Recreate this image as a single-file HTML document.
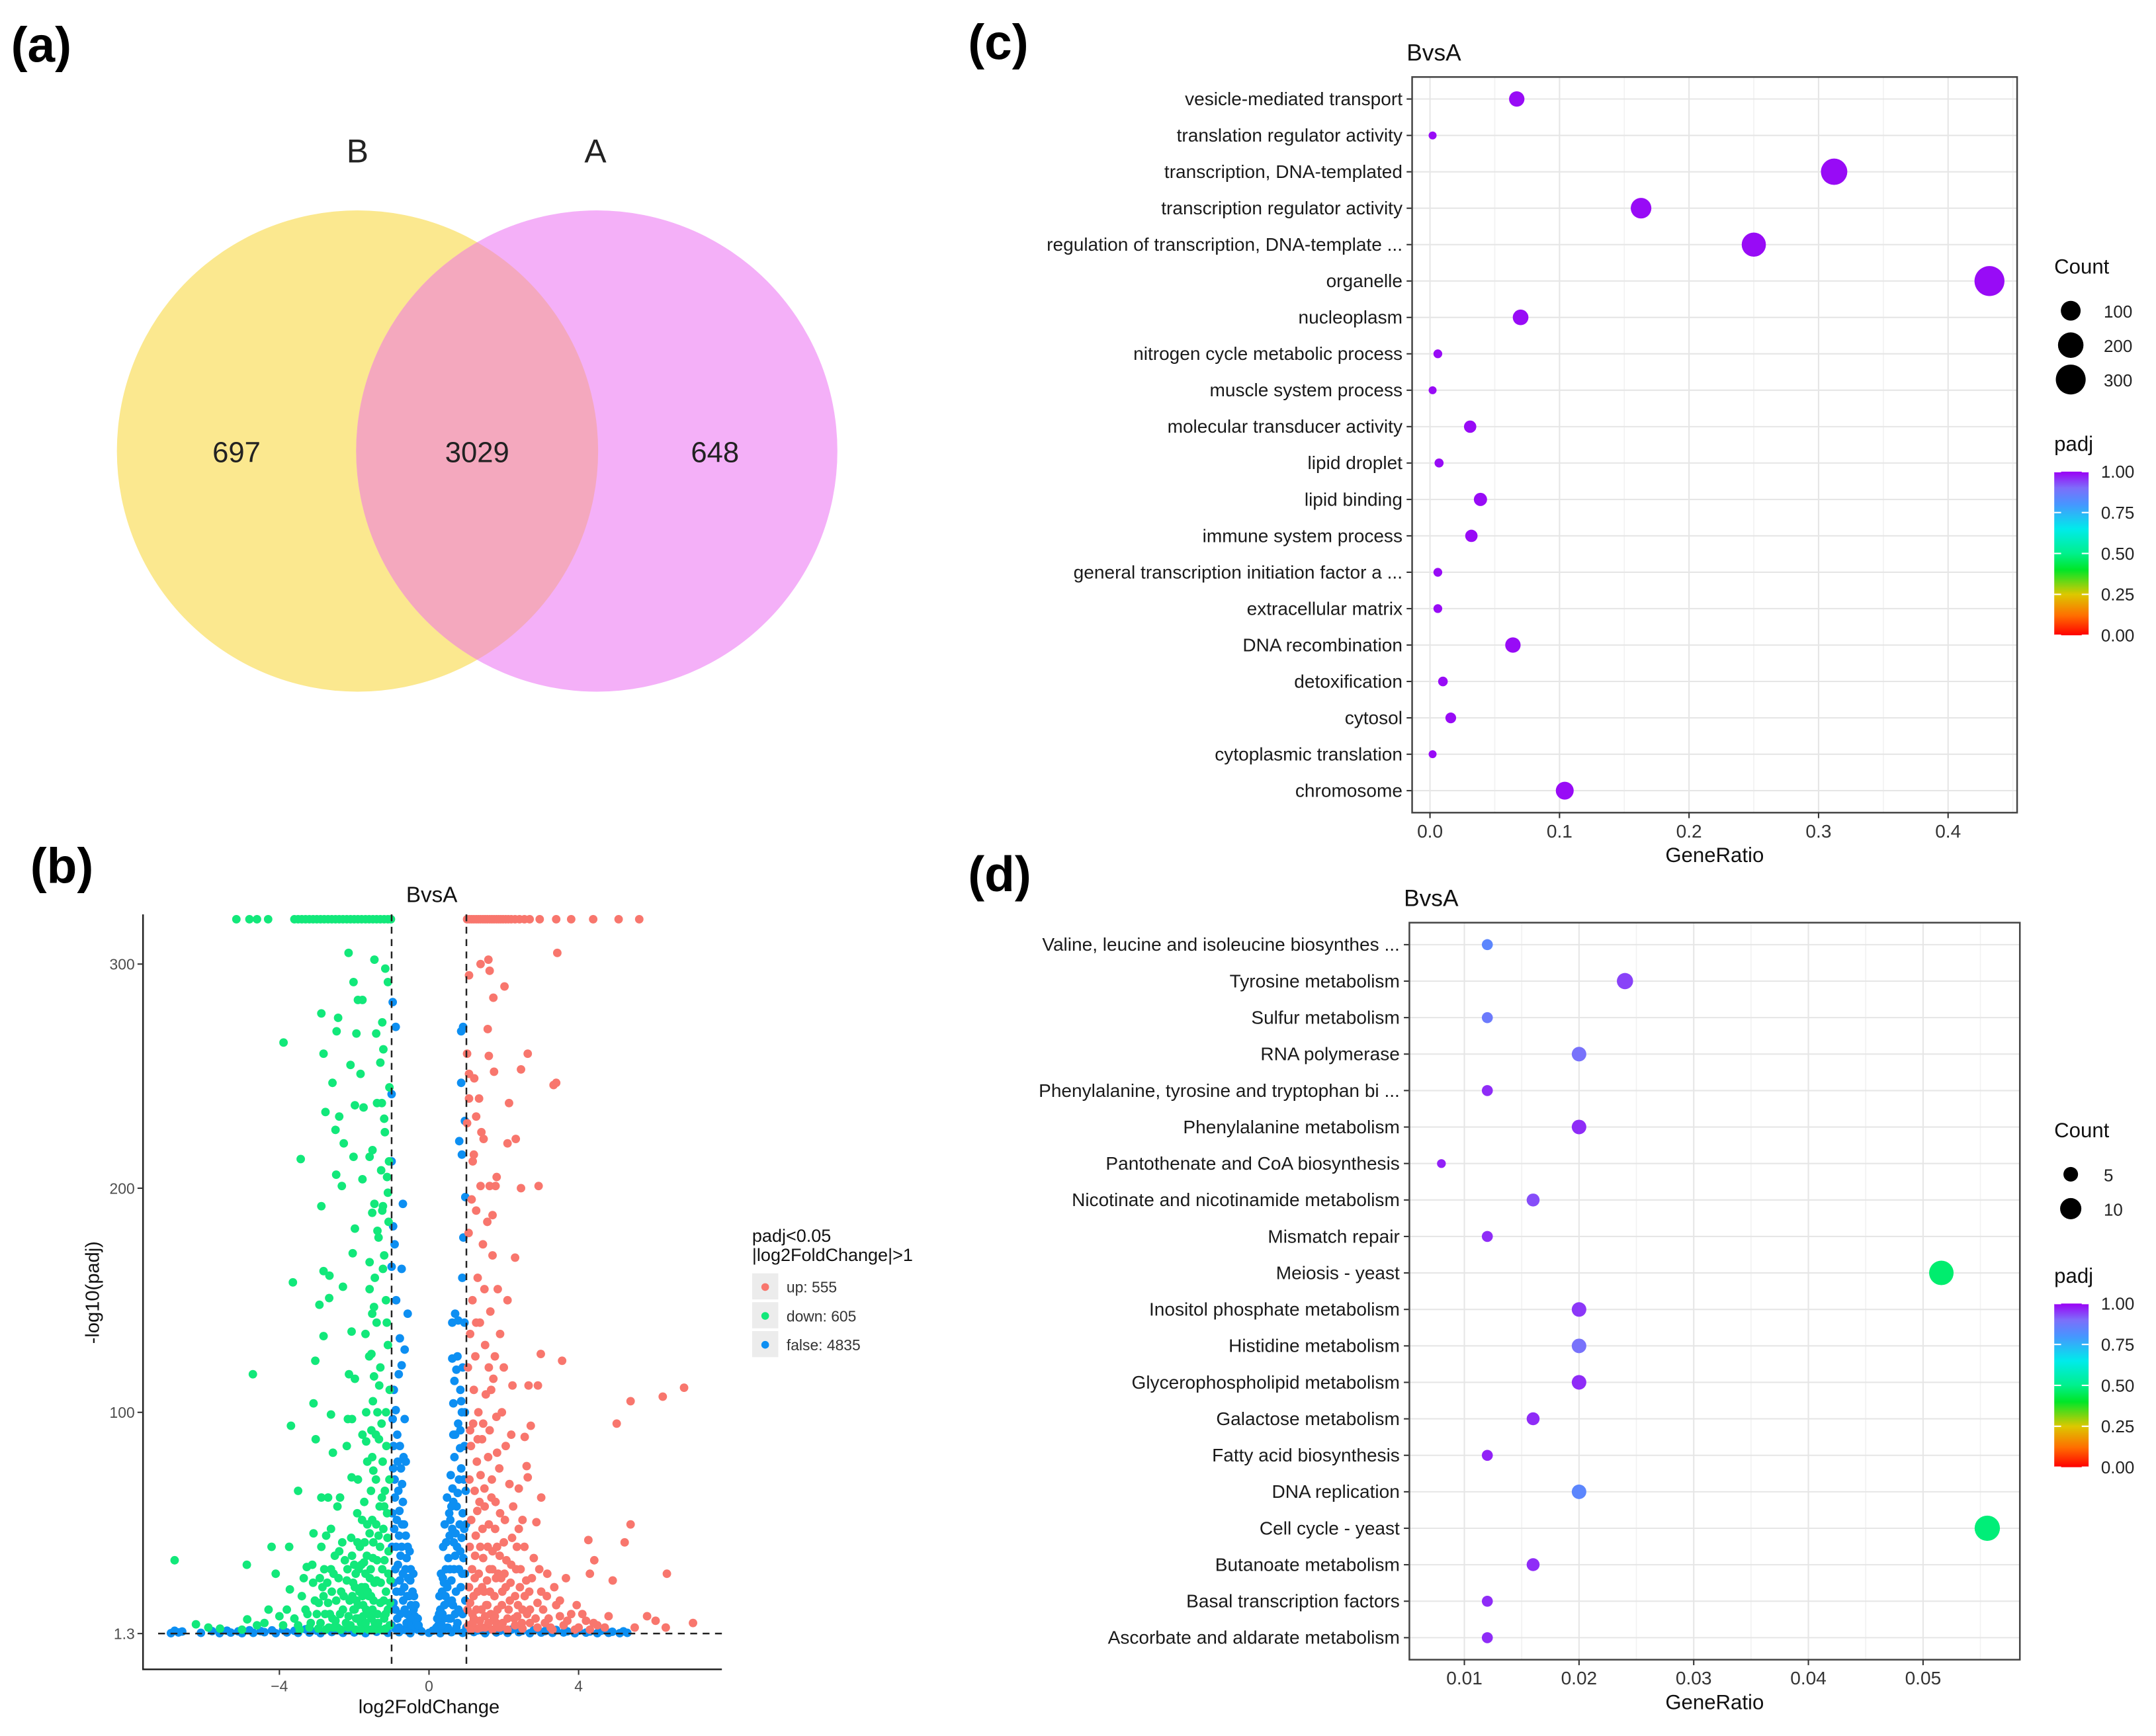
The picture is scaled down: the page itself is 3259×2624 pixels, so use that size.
<!DOCTYPE html>
<html><head><meta charset="utf-8">
<style>
html,body{margin:0;padding:0;background:#fff;}
svg{display:block;font-family:"Liberation Sans",sans-serif;}
.n{font-family:"Liberation Sans Narrow","Liberation Sans",sans-serif;}
</style></head>
<body>
<svg id="fig" xmlns="http://www.w3.org/2000/svg" width="3259" height="2624" viewBox="0 0 1568 1262.5">
<rect x="0" y="0" width="1568" height="1262.5" fill="#fff"/>
<text x="8" y="45" font-size="36" font-weight="bold">(a)</text>
<text x="22" y="642" font-size="36" font-weight="bold">(b)</text>
<text x="704" y="43" font-size="36" font-weight="bold">(c)</text>
<text x="704" y="648" font-size="36" font-weight="bold">(d)</text>

<g>
<defs><clipPath id="clipB"><circle cx="260" cy="328" r="175"/></clipPath></defs>
<circle cx="260" cy="328" r="175" fill="#fbe88f"/>
<circle cx="434" cy="328" r="175" fill="#f4b0f8"/>
<circle cx="434" cy="328" r="175" fill="#f4a8be" clip-path="url(#clipB)"/>
<text x="260" y="118" font-size="24" text-anchor="middle" fill="#222">B</text>
<text x="433" y="118" font-size="24" text-anchor="middle" fill="#222">A</text>
<text x="172" y="336" font-size="21" text-anchor="middle" fill="#222">697</text>
<text x="347" y="336" font-size="21" text-anchor="middle" fill="#222">3029</text>
<text x="520" y="336" font-size="21" text-anchor="middle" fill="#222">648</text>
</g>

<g id="volcano"></g>
<g id="goC"></g>
<g id="keggD"></g>
</svg>
<script>
// ---------- Volcano data ----------
const upPts=[[1.59,302],[1.38,300],[1.62,297],[3.43,305],[1.07,295],[2.02,290],[1.72,285],[1.57,271],[1.6,259],[2.64,260],[1.74,252],[2.46,253],[1.07,251],[1.21,249],[3.33,246],[3.4,247],[1.07,240],[2.14,238],[1.26,232],[1.02,229],[2.32,222],[2.1,220],[1.46,222],[1.17,212],[1.81,205],[1.38,201],[1.62,201],[1.78,201],[2.46,200],[2.93,201],[1.7,188],[2.3,169],[2.99,126],[3.56,123],[6.82,111],[6.25,107],[5.39,105],[5.02,95],[2.66,112],[2.91,112],[2.23,112],[2.72,94],[2.56,89],[2.61,76],[2.64,71],[3.0,62],[2.87,51],[5.39,50],[5.23,42],[4.26,43],[4.42,34],[6.36,28],[4.3,28],[4.91,25],[3.66,26],[3.16,28],[7.06,6],[6.06,7],[5.83,9],[6.33,4],[5.5,4],
[1.05,5],[1.1,15],[1.15,30],[1.2,8],[1.25,45],[1.3,20],[1.35,60],[1.4,12],[1.45,35],[1.5,4],[1.55,25],[1.6,50],[1.65,10],[1.7,38],[1.75,18],[1.8,6],[1.85,28],[1.9,55],[1.95,14],[2.0,42],[2.05,22],[2.1,8],[2.2,32],[2.3,18],[2.4,48],[2.5,12],[2.6,25],[2.7,6],[2.8,35],[2.9,15],[3.0,20],[3.2,8],[3.4,14],[3.6,5],[3.8,10],[4.0,4],[4.2,7],[4.5,5],[1.08,70],[1.12,85],[1.18,95],[1.22,65],[1.28,78],[1.32,100],[1.38,72],[1.42,88],[1.48,66],[1.52,108],[1.58,80],[1.62,92],[1.68,70],[1.72,115],[1.78,60],[1.82,82],[1.88,75],[1.95,100],[2.05,85],[2.15,68],[2.25,58],[2.35,40],[2.45,30],[1.04,120],[1.1,135],[1.16,150],[1.24,125],[1.3,160],[1.36,140],[1.44,175],[1.5,130],[1.56,185],[1.64,145],[1.7,170],[1.76,125],[1.84,155],[1.9,135],[2.0,120],[2.1,150],[1.06,180],[1.14,195],[1.2,215],[1.26,190],[1.4,225],[1.34,240],[1.02,260],
[1.12,3],[1.3,3.5],[1.5,9],[1.7,3],[1.9,4],[2.1,3],[2.3,5],[2.5,3.5],[2.7,12],[2.9,4],[3.1,6],[3.3,3],[3.5,9],[3.9,3],[4.3,3],[1.16,10],[1.36,7],[1.56,14],[1.76,9],[1.96,20],[2.16,16],[2.36,9],[2.56,18],[1.22,26],[1.42,22],[1.62,30],[1.82,40],[2.02,28],
[1.03,12],[1.07,22],[1.09,40],[1.13,52],[1.17,6],[1.19,18],[1.23,36],[1.27,12],[1.29,56],[1.33,28],[1.37,40],[1.39,4],[1.43,48],[1.47,20],[1.49,58],[1.53,14],[1.57,40],[1.59,6],[1.63,20],[1.67,62],[1.69,30],[1.73,8],[1.77,48],[1.79,26],[1.83,12],[1.87,4],[1.89,36],[1.93,26],[1.97,6],[2.03,52],[2.07,34],[2.13,12],[2.18,24],[2.22,44],[2.28,8],[2.33,30],[2.38,14],[2.43,22],[2.48,6],[2.55,40],[2.62,10],[2.68,20],[2.75,26],[2.85,8],[2.95,30],[3.05,12],[3.15,18],[3.25,4],[3.35,22],[3.5,16],[3.7,7],[3.95,14],[4.1,10],[4.4,6],[4.7,4],[4.8,9],[1.1,92],[1.2,110],[1.3,88],[1.45,95],[1.6,120],[1.8,98],[2.2,90],[2.4,66],[2.5,52],[1.26,140],[1.48,155],[1.66,110]];
const upTop=[1.02,1.08,1.14,1.2,1.26,1.32,1.38,1.44,1.5,1.56,1.62,1.68,1.74,1.8,1.86,1.92,1.98,2.05,2.12,2.2,2.3,2.42,2.55,2.69,2.96,3.4,3.8,4.39,5.07,5.62];
const downPts=[[-2.15,305],[-1.46,302],[-1.17,298],[-2.02,292],[-1.10,292],[-1.9,284],[-1.78,284],[-2.88,278],[-2.43,276],[-1.25,274],[-2.47,270],[-1.94,269],[-1.41,269],[-3.89,265],[-2.82,260],[-1.3,256],[-2.1,255],[-1.83,251],[-2.58,247],[-1.98,237],[-1.75,236],[-1.39,238],[-1.26,238],[-2.77,234],[-2.4,232],[-1.2,231],[-2.5,226],[-2.28,220],[-1.51,217],[-3.43,213],[-2.02,214],[-1.59,214],[-1.07,212],[-2.48,206],[-1.78,204],[-1.28,208],[-2.33,201],[-1.1,198],[-2.88,192],[-1.46,193],[-1.23,192],[-1.52,189],[-1.98,182],[-1.38,181],[-2.04,171],[-1.59,167],[-1.23,164],[-2.82,163],[-2.66,161],[-3.64,158],[-2.3,156],[-1.59,155],[-2.67,151],[-2.93,148],[-1.47,147],[-1.52,144],[-1.13,140],[-2.82,134],[-2.07,136],[-3.04,123],[-1.54,126],[-2.14,117],[-4.71,117],[-1.47,116],[-1.98,115],[-3.09,104],[-2.17,97],[-2.06,97],[-2.62,99],[-3.69,94],[-1.68,100],[-1.38,100],[-1.54,92],[-3.03,88],[-1.68,87],[-2.57,82],[-1.52,80],[-3.5,65],[-2.88,62],[-1.49,74],[-2.07,71],[-2.38,62],[-1.73,60],[-1.2,58],[-3.09,46],[-2.62,48],[-4.21,40],[-3.74,40],[-6.8,34],[-4.87,32],[-4.1,28],[-3.27,31],[-3.72,21],[-4.29,12],[-6.23,5.4],[-4.86,7.6],[-5.59,3.5],[-5.9,4],[-4.6,5],[-4.0,9],[-3.3,12],[-3.1,24],
[-1.05,5],[-1.1,12],[-1.15,20],[-1.2,8],[-1.25,30],[-1.3,15],[-1.35,45],[-1.4,25],[-1.45,6],[-1.5,35],[-1.55,18],[-1.6,10],[-1.65,50],[-1.7,28],[-1.75,4],[-1.8,22],[-1.85,40],[-1.9,14],[-1.95,8],[-2.0,32],[-2.05,18],[-2.1,5],[-2.2,25],[-2.3,12],[-2.4,38],[-2.5,7],[-2.6,20],[-2.7,15],[-2.8,30],[-2.9,6],[-3.0,10],[-3.2,4],[-3.4,18],[-3.6,8],[-3.9,5],[-1.08,38],[-1.12,55],[-1.18,65],[-1.22,48],[-1.28,3],[-1.32,58],[-1.38,10],[-1.42,70],[-1.48,16],[-1.52,52],[-1.58,26],[-1.62,3],[-1.68,12],[-1.72,42],[-1.78,18],[-1.82,6],[-1.88,30],[-1.92,55],[-1.98,22],[-2.02,12],[-2.08,44],[-2.15,9],[-2.25,34],[-2.35,20],[-2.45,4],[-2.55,28],[-2.65,10],[-2.75,45],[-2.85,22],[-2.95,15],[-1.03,25],[-1.06,70],[-1.14,85],[-1.24,78],[-1.34,88],[-1.44,3],[-1.54,8],[-1.64,20],[-1.74,33],[-1.84,2.5],[-1.94,16],
[-1.05,110],[-1.1,130],[-1.15,150],[-1.2,170],[-1.08,185],[-1.25,190],[-1.12,205],[-1.3,120],[-1.4,140],[-1.45,160],[-1.35,178],[-1.5,105],[-1.6,125],[-1.7,135],[-1.18,225],[-1.06,245],[-1.22,262],[-1.16,3.5],[-1.36,4],[-1.56,3],[-1.76,9],[-1.96,3],[-2.16,4],[-2.36,3],[-2.56,4],[-2.76,3],[-2.96,3.5],[-3.16,6],[-3.46,3],
[-1.04,15],[-1.09,28],[-1.11,44],[-1.16,10],[-1.19,34],[-1.21,16],[-1.26,62],[-1.29,24],[-1.31,40],[-1.36,6],[-1.39,34],[-1.41,50],[-1.46,24],[-1.49,42],[-1.51,12],[-1.56,30],[-1.59,46],[-1.61,18],[-1.66,36],[-1.69,6],[-1.71,22],[-1.76,14],[-1.79,52],[-1.81,32],[-1.86,20],[-1.89,8],[-1.91,42],[-1.96,28],[-1.99,12],[-2.03,24],[-2.06,36],[-2.12,16],[-2.18,30],[-2.22,6],[-2.28,18],[-2.32,42],[-2.38,10],[-2.42,26],[-2.48,16],[-2.52,36],[-2.58,8],[-2.62,30],[-2.68,4],[-2.72,24],[-2.78,10],[-2.82,18],[-2.88,40],[-2.92,26],[-3.05,16],[-3.12,32],[-3.25,10],[-3.35,26],[-3.5,5],[-3.8,12],[-4.4,6],[-5.0,3],[-1.15,100],[-1.27,95],[-1.33,112],[-1.42,90],[-1.55,65],[-1.65,78],[-1.78,90],[-1.9,70],[-2.2,85],[-2.45,58],[-2.7,62]];
const downTop=[-5.15,-4.8,-4.6,-4.3,-3.6,-3.5,-3.4,-3.3,-3.2,-3.1,-3.0,-2.9,-2.8,-2.7,-2.6,-2.5,-2.4,-2.3,-2.2,-2.1,-2.0,-1.9,-1.8,-1.7,-1.6,-1.5,-1.4,-1.3,-1.2,-1.1,-1.02];
const falsePts=[[-0.97,283],[-0.89,272],[0.91,272],[0.86,270],[-1.0,242],[0.86,247],[-1.0,212],[0.96,230],[0.81,221],[0.97,196],[-0.7,193],[-0.96,183],[-1.0,165],[-0.73,164],[-0.57,144],[0.89,160],[0.7,144],[0.62,140],[0.78,141],[-0.78,133],[-0.65,128],[-0.73,121],[-0.81,117],[0.62,124],[0.73,119],[0.68,114],[0.86,105],[0.65,104],[-0.89,101],[-0.97,97],[-0.65,97],[0.65,90],[-0.78,85],[-0.62,78],
[-1.0,5],[-0.95,15],[-0.9,30],[-0.85,8],[-0.8,45],[-0.75,20],[-0.7,60],[-0.65,12],[-0.6,35],[-0.55,5],[-0.5,25],[-0.45,10],[-0.4,18],[-0.35,4],[-0.3,8],[-0.25,3],[-0.98,55],[-0.92,70],[-0.88,40],[-0.82,65],[-0.78,25],[-0.72,50],[-0.68,3],[-0.62,45],[-0.58,18],[-0.52,38],[-0.48,14],[-0.42,28],[-0.38,9],[-0.95,85],[-0.85,90],[-0.75,75],[-0.68,80],
[0.25,5],[0.3,12],[0.35,20],[0.4,8],[0.45,30],[0.5,15],[0.55,45],[0.6,25],[0.65,60],[0.7,10],[0.75,40],[0.8,70],[0.85,22],[0.9,55],[0.95,85],[1.0,4],[0.32,28],[0.38,40],[0.42,50],[0.48,62],[0.52,35],[0.58,72],[0.62,48],[0.68,80],[0.72,20],[0.78,95],[0.82,50],[0.88,100],[0.92,35],[0.98,65],[0.28,18],[0.2,4],[0.15,3],[0.58,8],[0.84,110],[0.9,120],[0.76,125],[0.95,140],
[-0.95,24],[-0.9,12],[-0.86,52],[-0.8,4],[-0.76,36],[-0.7,28],[-0.66,22],[-0.6,6],[-0.56,26],[-0.5,8],[-0.44,20],[0.3,6],[0.36,10],[0.44,18],[0.5,4],[0.56,30],[0.64,14],[0.7,36],[0.76,6],[0.84,38],[0.9,10],[0.96,28],[0.4,24],[0.54,55],[0.66,42],[0.74,58],[0.86,75],[0.94,48],[-0.94,110],[-0.88,150],[-0.92,175],[0.92,178],[0.88,215],
[-0.99,40],[-0.93,48],[-0.91,62],[-0.87,20],[-0.83,32],[-0.79,56],[-0.77,10],[-0.73,40],[-0.69,16],[-0.67,50],[-0.63,30],[-0.59,10],[-0.57,40],[-0.53,18],[-0.49,30],[-0.46,5],[-0.41,12],[-0.36,14],[-0.33,6],[-0.28,5],[-0.96,75],[-0.84,78],[-0.72,68],[0.22,8],[0.27,10],[0.34,5],[0.37,26],[0.41,14],[0.46,42],[0.49,22],[0.53,8],[0.57,52],[0.61,16],[0.63,66],[0.67,30],[0.71,46],[0.73,4],[0.77,64],[0.79,12],[0.83,84],[0.87,44],[0.89,28],[0.93,70],[0.97,16],[0.99,50],[0.8,30],[0.7,90],[0.6,58],[0.96,100],[0.84,92]];
const baseX=[-6.9,-6.8,-6.7,-6.6,-6.1,-5.8,-5.6,-5.4,-5.3,-5.1,-5.0,-4.8,-4.7,-4.5,-4.4,-4.2,-4.1,-3.9,-3.8,-3.6,-3.5,-3.3,-3.2,-3.0,-2.9,-2.7,-2.6,-2.4,-2.3,-2.1,-2.0,-1.8,-1.7,-1.5,-1.4,-1.2,-1.1,-0.9,-0.8,-0.6,-0.5,-0.3,-0.2,0.0,0.1,0.3,0.4,0.6,0.7,0.9,1.0,1.2,1.3,1.5,1.6,1.8,1.9,2.1,2.2,2.4,2.5,2.7,2.8,3.0,3.1,3.3,3.4,3.6,3.7,3.9,4.0,4.2,4.3,4.5,4.6,4.8,4.9,5.1,5.2,5.3];
const baseY=[1.5,2.5,1.8,2.2,1.6,2.4,1.5,2.6,1.7,2.3,1.5,2.8,1.6,2.4,1.9,2.7,1.5,3.0,1.8,2.5,1.6,3.2,1.7,2.6,1.5,3.4,2.0,2.8,1.6,3.1,1.8,2.9,1.5,3.3,2.1,2.7,1.6,3.5,1.9,2.8,1.5,3.0,2.2,1.6,2.6,1.5,3.2,1.9,2.8,1.6,3.4,2.0,2.7,1.5,3.1,1.8,2.6,1.6,3.0,1.9,2.5,1.5,2.8,1.7,2.4,1.6,2.9,1.8,2.3,1.5,2.6,1.7,2.2,1.5,2.5,1.6,2.1,1.5,2.3,1.6];
const volXTicks=[-4,0,4];
const volYTicks=[1.3,100,200,300];
const volLegend=["up: 555","down: 605","false: 4835"];

// ---------- GO (c) data ----------
const goTerms=["vesicle-mediated transport","translation regulator activity","transcription, DNA-templated","transcription regulator activity","regulation of transcription, DNA-template ...","organelle","nucleoplasm","nitrogen cycle metabolic process","muscle system process","molecular transducer activity","lipid droplet","lipid binding","immune system process","general transcription initiation factor a ...","extracellular matrix","DNA recombination","detoxification","cytosol","cytoplasmic translation","chromosome"];
const goRatio=[0.067,0.002,0.312,0.163,0.25,0.432,0.07,0.006,0.002,0.031,0.007,0.039,0.032,0.006,0.006,0.064,0.01,0.016,0.002,0.104];
const goCount=[47,2,218,114,175,302,49,4,2,22,5,27,22,4,4,45,7,11,2,73];
const goPadj=[0.99,0.99,0.99,0.99,0.99,0.99,0.99,0.99,0.99,0.99,0.99,0.99,0.99,0.99,0.99,0.99,0.99,0.99,0.99,0.99];
const goXTicks=[0.0,0.1,0.2,0.3,0.4];
const goSizeLegend=[100,200,300];

// ---------- KEGG (d) data ----------
const kgTerms=["Valine, leucine and isoleucine biosynthes ...","Tyrosine metabolism","Sulfur metabolism","RNA polymerase","Phenylalanine, tyrosine and tryptophan bi ...","Phenylalanine metabolism","Pantothenate and CoA biosynthesis","Nicotinate and nicotinamide metabolism","Mismatch repair","Meiosis - yeast","Inositol phosphate metabolism","Histidine metabolism","Glycerophospholipid metabolism","Galactose metabolism","Fatty acid biosynthesis","DNA replication","Cell cycle - yeast","Butanoate metabolism","Basal transcription factors","Ascorbate and aldarate metabolism"];
const kgRatio=[0.012,0.024,0.012,0.020,0.012,0.020,0.008,0.016,0.012,0.0516,0.020,0.020,0.020,0.016,0.012,0.020,0.0556,0.016,0.012,0.012];
const kgCount=[3,6,3,5,3,5,2,4,3,13,5,5,5,4,3,5,14,4,3,3];
const kgPadj=[0.84,0.94,0.87,0.89,0.96,0.96,0.97,0.93,0.96,0.47,0.95,0.89,0.96,0.96,0.97,0.84,0.48,0.96,0.96,0.96];
const kgXTicks=[0.01,0.02,0.03,0.04,0.05];
const kgSizeLegend=[5,10];
const padjTicks=[1.00,0.75,0.50,0.25,0.00];

const NS="http://www.w3.org/2000/svg";
function el(tag,attrs,parent){const e=document.createElementNS(NS,tag);for(const k in attrs)e.setAttribute(k,attrs[k]);parent.appendChild(e);return e;}
function txt(s,attrs,parent){const e=el('text',attrs,parent);e.textContent=s;return e;}

const stops=[[0,[255,0,0]],[0.12,[255,110,0]],[0.25,[220,200,0]],[0.4,[0,230,40]],[0.5,[0,240,140]],[0.65,[0,235,235]],[0.8,[70,150,255]],[0.9,[125,110,250]],[1,[155,0,245]]];
function padjColor(v){for(let i=1;i<stops.length;i++){if(v<=stops[i][0]){const a=stops[i-1],b=stops[i];const t=(v-a[0])/(b[0]-a[0]);const c=a[1].map((x,j)=>Math.round(x+(b[1][j]-x)*t));return 'rgb('+c.join(',')+')';}}return 'rgb(155,0,245)';}

// ---------- volcano ----------
(function(){
const g=document.getElementById('volcano');
const X0=104,X1=525,Y0=665,Y1=1214;
const xs=v=>312+v*27.2;
const ys=v=>1188-(v-1.3)*1.63;
const yCap=320;
txt('BvsA',{x:314,y:656,'font-size':16,'text-anchor':'middle',fill:'#111'},g);
function dot(x,y,c,name){const e=el('circle',{cx:xs(x).toFixed(1),cy:ys(Math.min(y,yCap)).toFixed(1),r:3.1,fill:c},g);

}
baseX.forEach((x,i)=>dot(x,baseY[i],'#0d8ff2','point-false'));
falsePts.forEach(p=>dot(p[0],p[1],'#0d8ff2','point-false'));
downPts.forEach(p=>dot(p[0],p[1],'#12e87a','point-down'));
downTop.forEach(x=>dot(x,yCap,'#12e87a','point-down'));
upPts.forEach(p=>dot(p[0],p[1],'#f8766d','point-up'));
upTop.forEach(x=>dot(x,yCap,'#f8766d','point-up'));
el('line',{x1:xs(-1),y1:Y0,x2:xs(-1),y2:Y1,stroke:'#222','stroke-width':1.2,'stroke-dasharray':'5,4'},g);
el('line',{x1:xs(1),y1:Y0,x2:xs(1),y2:Y1,stroke:'#222','stroke-width':1.2,'stroke-dasharray':'5,4'},g);
el('line',{x1:115,y1:ys(1.3),x2:X1,y2:ys(1.3),stroke:'#222','stroke-width':1.2,'stroke-dasharray':'5,4'},g);
const ax=el('path',{d:`M${X0},${Y0} V${Y1} H${X1}`,fill:'none',stroke:'#222','stroke-width':1.2},g);


volXTicks.forEach(t=>{el('line',{x1:xs(t),y1:Y1,x2:xs(t),y2:Y1+4,stroke:'#333'},g);
const l=txt(t<0?'\u2212'+(-t):String(t),{x:xs(t),y:Y1+16,'font-size':11,'text-anchor':'middle',fill:'#4d4d4d'},g);

});
volYTicks.forEach(t=>{el('line',{x1:X0-4,y1:ys(t),x2:X0,y2:ys(t),stroke:'#333'},g);
const l=txt(String(t),{x:X0-6,y:ys(t)+4,'font-size':11,'text-anchor':'end',fill:'#4d4d4d'},g);

});
const xt=txt('log2FoldChange',{x:312,y:1246,'font-size':14,'text-anchor':'middle',fill:'#111'},g);


const yt=txt('-log10(padj)',{x:0,y:0,'font-size':14,'text-anchor':'middle',fill:'#111',transform:'translate(72,940) rotate(-90)'},g);


txt('padj<0.05',{x:547,y:903,'font-size':13,fill:'#111'},g);
txt('|log2FoldChange|>1',{x:547,y:917,'font-size':13,fill:'#111'},g);
const lc=['#f8766d','#12e87a','#0d8ff2'];
volLegend.forEach((s,i)=>{const y=936+i*21;
el('rect',{x:547,y:y-10,width:19,height:19,fill:'#ececec'},g);
const d=el('circle',{cx:556.5,cy:y,r:2.8,fill:lc[i]},g);


const l=txt(s,{x:572,y:y+4,'font-size':11,fill:'#333'},g);

});
})();

// ---------- dot plots ----------
function dotPlot(g,cfg){
const {L,R,T,B,x0px,x0,pxPer,terms,ratio,count,padj,ticks,tickFmt,rFn,sizeLeg,sizeY,titleY,padjY}=cfg;
const xs=v=>x0px+(v-x0)*pxPer;
const rowY=i=>T+16+i*((B-T-32)/(terms.length-1));
el('rect',{x:L,y:T,width:R-L,height:B-T,fill:'#fff'},g);
for(let i=0;i<ticks.length+1;i++){const v=ticks[0]+(i-0.5)*(ticks[1]-ticks[0]);const x=xs(v);if(x>L&&x<R)el('line',{x1:x,y1:T,x2:x,y2:B,stroke:'#f2f2f2','stroke-width':0.8},g);}
ticks.forEach(t=>el('line',{x1:xs(t),y1:T,x2:xs(t),y2:B,stroke:'#e6e6e6','stroke-width':1},g));
terms.forEach((s,i)=>{const y=rowY(i);
el('line',{x1:L,y1:y,x2:R,y2:y,stroke:'#e6e6e6','stroke-width':1},g);
el('line',{x1:L-4,y1:y,x2:L,y2:y,stroke:'#333','stroke-width':1},g);
const l=txt(s,{x:L-7,y:y+4.5,'font-size':13.5,'text-anchor':'end',fill:'#1a1a1a',class:'n'},g);

});
el('rect',{x:L,y:T,width:R-L,height:B-T,fill:'none',stroke:'#444','stroke-width':1.2},g);
terms.forEach((s,i)=>{const c=el('circle',{cx:xs(ratio[i]).toFixed(1),cy:rowY(i).toFixed(1),r:rFn(count[i]).toFixed(1),fill:padjColor(padj[i])},g);

});
ticks.forEach(t=>{el('line',{x1:xs(t),y1:B,x2:xs(t),y2:B+4,stroke:'#333'},g);
const l=txt(tickFmt(t),{x:xs(t),y:B+18,'font-size':13.5,'text-anchor':'middle',fill:'#333',class:'n'},g);

});
const xt=txt('GeneRatio',{x:(L+R)/2,y:B+36,'font-size':15,'text-anchor':'middle',fill:'#111',class:'n'},g);


const tt=txt('BvsA',{x:L-4,y:titleY,'font-size':17,fill:'#111',class:'n'},g);


txt('Count',{x:1494,y:sizeY,'font-size':15,fill:'#111',class:'n'},g);
sizeLeg.forEach((v,i)=>{const y=sizeY+27+i*25;
const c=el('circle',{cx:1506,cy:y,r:rFn(v),fill:'#000'},g);


txt(String(v),{x:1530,y:y+5,'font-size':12.5,fill:'#222',class:'n'},g);});
txt('padj',{x:1494,y:padjY,'font-size':15,fill:'#111',class:'n'},g);
const top=padjY+15,h=119;
const gid='grad'+Math.round(padjY);
const defs=el('defs',{},g);
const lg=el('linearGradient',{id:gid,x1:0,y1:1,x2:0,y2:0},defs);
stops.forEach(s=>el('stop',{offset:s[0],'stop-color':'rgb('+s[1].join(',')+')'},lg));
const bar=el('rect',{x:1494,y:top,width:25,height:h,fill:'url(#'+gid+')'},g);


padjTicks.forEach(t=>{const y=top+(1-t)*h;
el('line',{x1:1494,y1:y,x2:1499,y2:y,stroke:'#fff'},g);el('line',{x1:1514,y1:y,x2:1519,y2:y,stroke:'#fff'},g);
txt(t.toFixed(2),{x:1528,y:y+4.5,'font-size':12.5,fill:'#222',class:'n'},g);});
}
dotPlot(document.getElementById('goC'),{L:1027,R:1467,T:56,B:591,x0px:1040,x0:0,pxPer:942,terms:goTerms,ratio:goRatio,count:goCount,padj:goPadj,ticks:goXTicks,tickFmt:t=>t.toFixed(1),rFn:c=>2.2+Math.sqrt(c)*0.5,sizeLeg:goSizeLegend,sizeY:199,titleY:44,padjY:328});
dotPlot(document.getElementById('keggD'),{L:1025,R:1469,T:671,B:1207,x0px:1065,x0:0.01,pxPer:8340,terms:kgTerms,ratio:kgRatio,count:kgCount,padj:kgPadj,ticks:kgXTicks,tickFmt:t=>t.toFixed(2),rFn:c=>Math.sqrt(c)*2.6-0.5,sizeLeg:kgSizeLegend,sizeY:827,titleY:659,padjY:933});
</script>
</body></html>
